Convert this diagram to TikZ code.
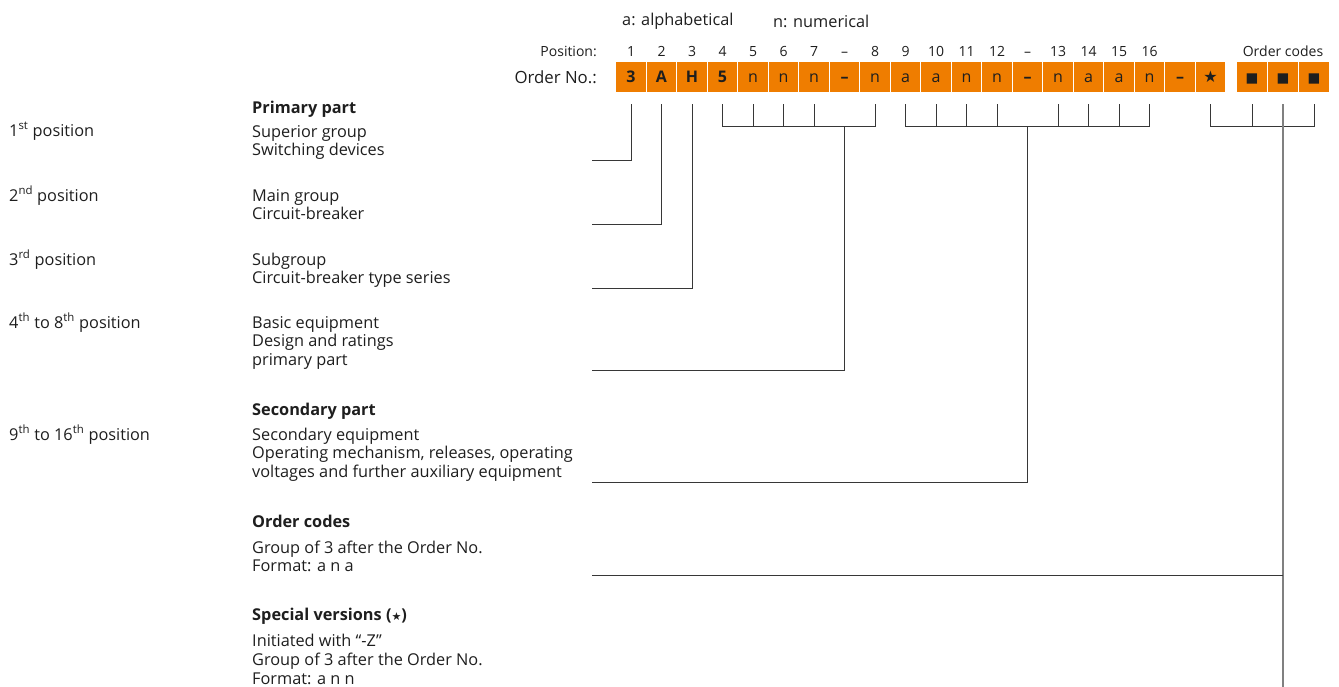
\documentclass[tikz,border=0pt]{standalone}
\usepackage{fontspec}
\setmainfont{Open Sans}
\newfontfamily\symfont{DejaVu Sans}
\usetikzlibrary{calc}
\definecolor{sorange}{RGB}{239,125,0}
\definecolor{lineg}{RGB}{55,55,55}
\definecolor{txt}{RGB}{30,30,30}
\begin{document}
\begin{tikzpicture}[x=1pt,y=-1pt,
  cellbox/.style={fill=sorange, minimum width=29.5pt, minimum height=30pt, inner sep=0pt, text=txt, font=\fontsize{16}{18}\selectfont, text height=11.4pt, text depth=0pt},
  poslabel/.style={font=\fontsize{14}{16}\selectfont, text=txt, inner sep=0pt},
  posnum/.style={poslabel, text height=10pt, text depth=0pt},
  desc/.style={font=\fontsize{16.3}{18.7}\selectfont, text=txt, align=left, anchor=base west, inner sep=0pt},
  head/.style={desc, font=\fontsize{16.3}{18.7}\selectfont\bfseries},
  conn/.style={draw=lineg, line width=1pt},
  connlight/.style={draw=gray, line width=1.8pt}]
\useasboundingbox (0,0) rectangle (1339,686);

% header texts
\node[desc, anchor=west] (alpha) at (622,21) {a: alphabetical};
\node[desc, anchor=west] (numer) at (773,21) {n: numerical};
\node[poslabel, anchor=east] (poslbl) at (597,51) {Position:};
\node[desc, font=\fontsize{16.8}{18}\selectfont, anchor=east] (ordlbl) at (597,77) {Order No.:};
\node[poslabel] (oclbl) at (1283,51) {Order codes};

% cells
\foreach \t [count=\i from 0] in {\textbf{3},\textbf{A},\textbf{H},\textbf{5},n,n,n,\textbf{–},n,a,a,n,n,\textbf{–},n,a,a,n,\textbf{–},{\symfont ★}}
  \node[cellbox] (c\i) at (631+30.5*\i,77) {\t};
\foreach \i in {0,1,2}
  \node[cellbox] (o\i) at (1252+31*\i,77) {\fontsize{13.5}{14}\symfont ■};

% position numbers
\foreach \t [count=\i from 0] in {1,2,3,4,5,6,7,–,8,9,10,11,12,–,13,14,15,16}
  \node[posnum] (p\i) at (631+30.5*\i,51) {\t};

% left column
\node[desc] (l1) at (9,136) {1\textsuperscript{st} position};
\node[desc] (l2) at (9,201) {2\textsuperscript{nd} position};
\node[desc] (l3) at (9,265) {3\textsuperscript{rd} position};
\node[desc] (l4) at (9,328) {4\textsuperscript{th} to 8\textsuperscript{th} position};
\node[desc] (l5) at (9,440) {9\textsuperscript{th} to 16\textsuperscript{th} position};

% middle column (anchor = baseline of the last line)
\node[head] (h1) at (252,113) {Primary part};
\node[desc] (d1) at (252,155.7) {Superior group\\Switching devices};
\node[desc] (d2) at (252,219.7) {Main group\\Circuit-breaker};
\node[desc] (d3) at (252,283.7) {Subgroup\\Circuit-breaker type series};
\node[desc] (d4) at (252,365.4) {Basic equipment\\Design and ratings\\primary part};
\node[head] (h2) at (252,415) {Secondary part};
\node[desc] (d5) at (252,477.4) {Secondary equipment\\Operating mechanism, releases, operating\\voltages and further auxiliary equipment};
\node[head] (h3) at (252,527) {Order codes};
\node[desc] (d6) at (252,571.7) {Group of 3 after the Order No.\\Format: a n a};
\node[head] (h4) at (252,620) {Special versions ({\symfont\mdseries\fontsize{11}{12}\selectfont ★})};
\node[desc] (d7) at (252,684) {Initiated with “-Z”\\Group of 3 after the Order No.\\Format: a n n};

% end points of connectors
\coordinate (e1) at (592,160);
\coordinate (e2) at (592,224);
\coordinate (e3) at (592,288);
\coordinate (e4) at (592,370);
\coordinate (e5) at (592,482);
\coordinate (e6) at (592,575);
\coordinate (bot) at (0,690);

% single connectors
\draw[conn] ($(c0.south)+(0,12)$) |- (e1);
\draw[conn] ($(c1.south)+(0,12)$) |- (e2);
\draw[conn] ($(c2.south)+(0,12)$) |- (e3);

% bracket 4-8
\draw[conn] ($(c3.south)+(0,12)$) |- ($(c8.south)+(0,34)$) -- ($(c8.south)+(0,12)$);
\foreach \i in {4,5,6}
  \draw[conn] ($(c\i.south)+(0,12)$) -- ($(c\i.south)+(0,34)$);
\draw[conn] ($(c7.south)+(0,34)$) |- (e4);

% bracket 9-16
\draw[conn] ($(c9.south)+(0,12)$) |- ($(c17.south)+(0,34)$) -- ($(c17.south)+(0,12)$);
\foreach \i in {10,11,12,14,15,16}
  \draw[conn] ($(c\i.south)+(0,12)$) -- ($(c\i.south)+(0,34)$);
\draw[conn] ($(c13.south)+(0,34)$) |- (e5);

% bracket order codes
\draw[conn] ($(c19.south)+(0,12)$) |- ($(o2.south)+(0,34)$) -- ($(o2.south)+(0,12)$);
\draw[conn] ($(o0.south)+(0,12)$) -- ($(o0.south)+(0,34)$);
\draw[connlight] ($(o1.south)+(0,12)$) -- (o1 |- bot);
\draw[conn] (e6) -- (e6 -| o1);
\end{tikzpicture}
\end{document}
